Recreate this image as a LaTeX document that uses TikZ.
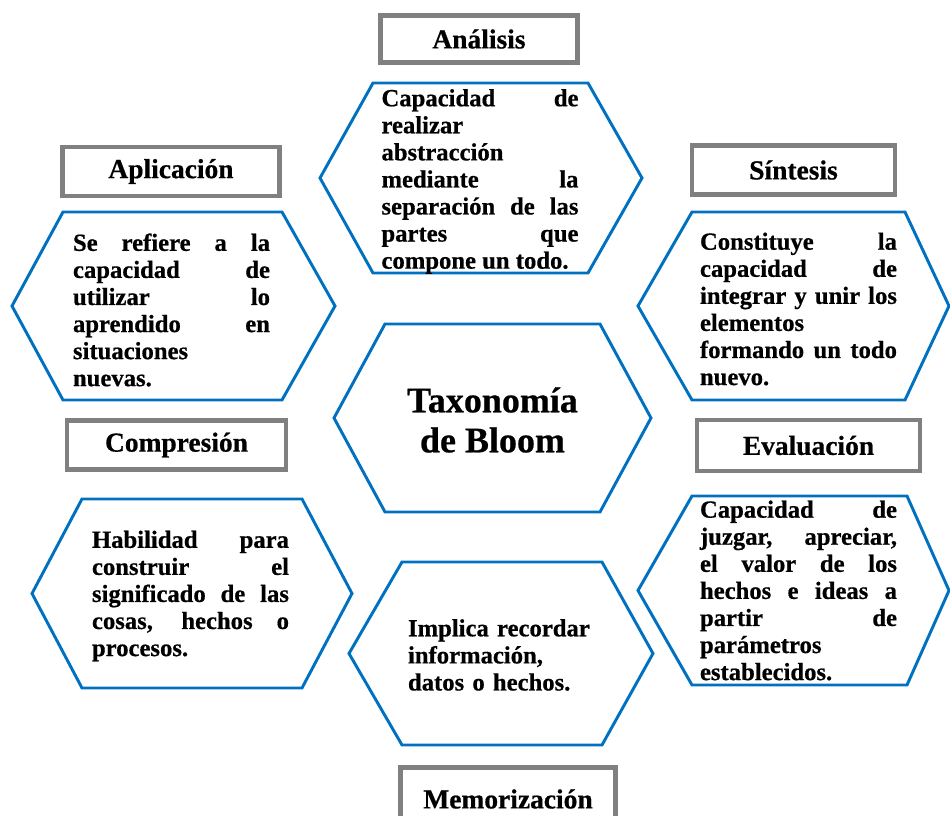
\documentclass[tikz,border=0pt]{standalone}
\usepackage{fontspec}
\setmainfont{Liberation Serif}[BoldFeatures={FakeBold=0.6}]
\usepackage{tikz}
\hyphenpenalty=10000
\exhyphenpenalty=10000
\tolerance=10000
\hbadness=10000

\definecolor{azul}{RGB}{0,112,192}
\definecolor{gris}{RGB}{128,128,128}

\begin{document}
\begin{tikzpicture}[x=0.75pt,y=-0.75pt,
	hexa/.style={draw=azul,line width=2.2pt,line join=miter},
	etiqueta/.style={draw=gris,line width=3.4pt,fill=white,inner sep=0pt,font=\fontsize{20.6}{24}\selectfont\bfseries},
	texto/.style={inner sep=0pt,text width=147.75pt,align=justify,font=\fontsize{18.5}{20.3}\selectfont\bfseries}]
	\useasboundingbox (0,0) rectangle (950,816);

	% hexagonos
	\draw[hexa] (320,178) -- (373,83) -- (588,83) -- (642,178) -- (588,273) -- (373,273) -- cycle;
	\draw[hexa] (12,306) -- (63,212) -- (282,212) -- (335,306) -- (282,400) -- (63,400) -- cycle;
	\draw[hexa] (638,306) -- (692,212) -- (905,212) -- (949,306) -- (905,400) -- (692,400) -- cycle;
	\draw[hexa] (32,593.5) -- (82,499) -- (302,499) -- (352,593.5) -- (302,688) -- (82,688) -- cycle;
	\draw[hexa] (638,590.5) -- (692,496) -- (907,496) -- (949,590.5) -- (907,685) -- (692,685) -- cycle;
	\draw[hexa] (334,418) -- (385,324) -- (600,324) -- (651,418) -- (600,512) -- (385,512) -- cycle;
	\draw[hexa] (349,653.5) -- (402,562) -- (602,562) -- (653,653.5) -- (602,745) -- (402,745) -- cycle;

	% etiquetas
	\draw (479,39) node (analisis) [etiqueta,minimum width=148pt,minimum height=35.5pt] {Análisis};
	\draw (171,171.5) node (aplicacion) [etiqueta,minimum width=163pt,minimum height=36.5pt] {Aplicación};
	\draw (793.5,170) node (sintesis) [etiqueta,minimum width=152pt,minimum height=37pt] {Síntesis};
	\draw (176.5,445) node (compresion) [etiqueta,minimum width=164pt,minimum height=37pt] {Compresión};
	\draw (808.5,445.5) node (evaluacion) [etiqueta,minimum width=167pt,minimum height=38pt] {Evaluación};
	\draw (508,799) node (memorizacion) [etiqueta,minimum width=161.5pt,minimum height=47.5pt] {Memorización};

	% textos
	\draw (480,181.5) node (ana) [texto] {Capacidad de\linebreak realizar\\ abstracción\\ mediante la\linebreak separación de las\linebreak partes que\linebreak compone un todo.};
	\draw (171.5,310) node (apl) [texto] {Se refiere a la\linebreak capacidad de\linebreak utilizar lo\linebreak aprendido en\linebreak situaciones\\ nuevas.};
	\draw (798.5,309) node (sin) [texto] {Constituye la\linebreak capacidad de\linebreak integrar y unir los\linebreak elementos\\ formando un todo\linebreak nuevo.};
	\draw (190.5,596) node (com) [texto] {Habilidad para\linebreak construir el\linebreak significado de las\linebreak cosas, hechos o\linebreak procesos.};
	\draw (798.5,590.5) node (eva) [texto] {Capacidad de\linebreak juzgar, apreciar,\linebreak el valor de los\linebreak hechos e ideas a\linebreak partir de\linebreak parámetros\\ establecidos.};
	\draw (506.5,655) node (mem) [texto,align=left] {Implica recordar\\ información,\\ datos o hechos.};
	\draw (492.5,420) node (tax) [inner sep=0pt,align=center,font=\fontsize{27}{30}\selectfont\bfseries] {Taxonomía\\ de Bloom};
\end{tikzpicture}
\end{document}
